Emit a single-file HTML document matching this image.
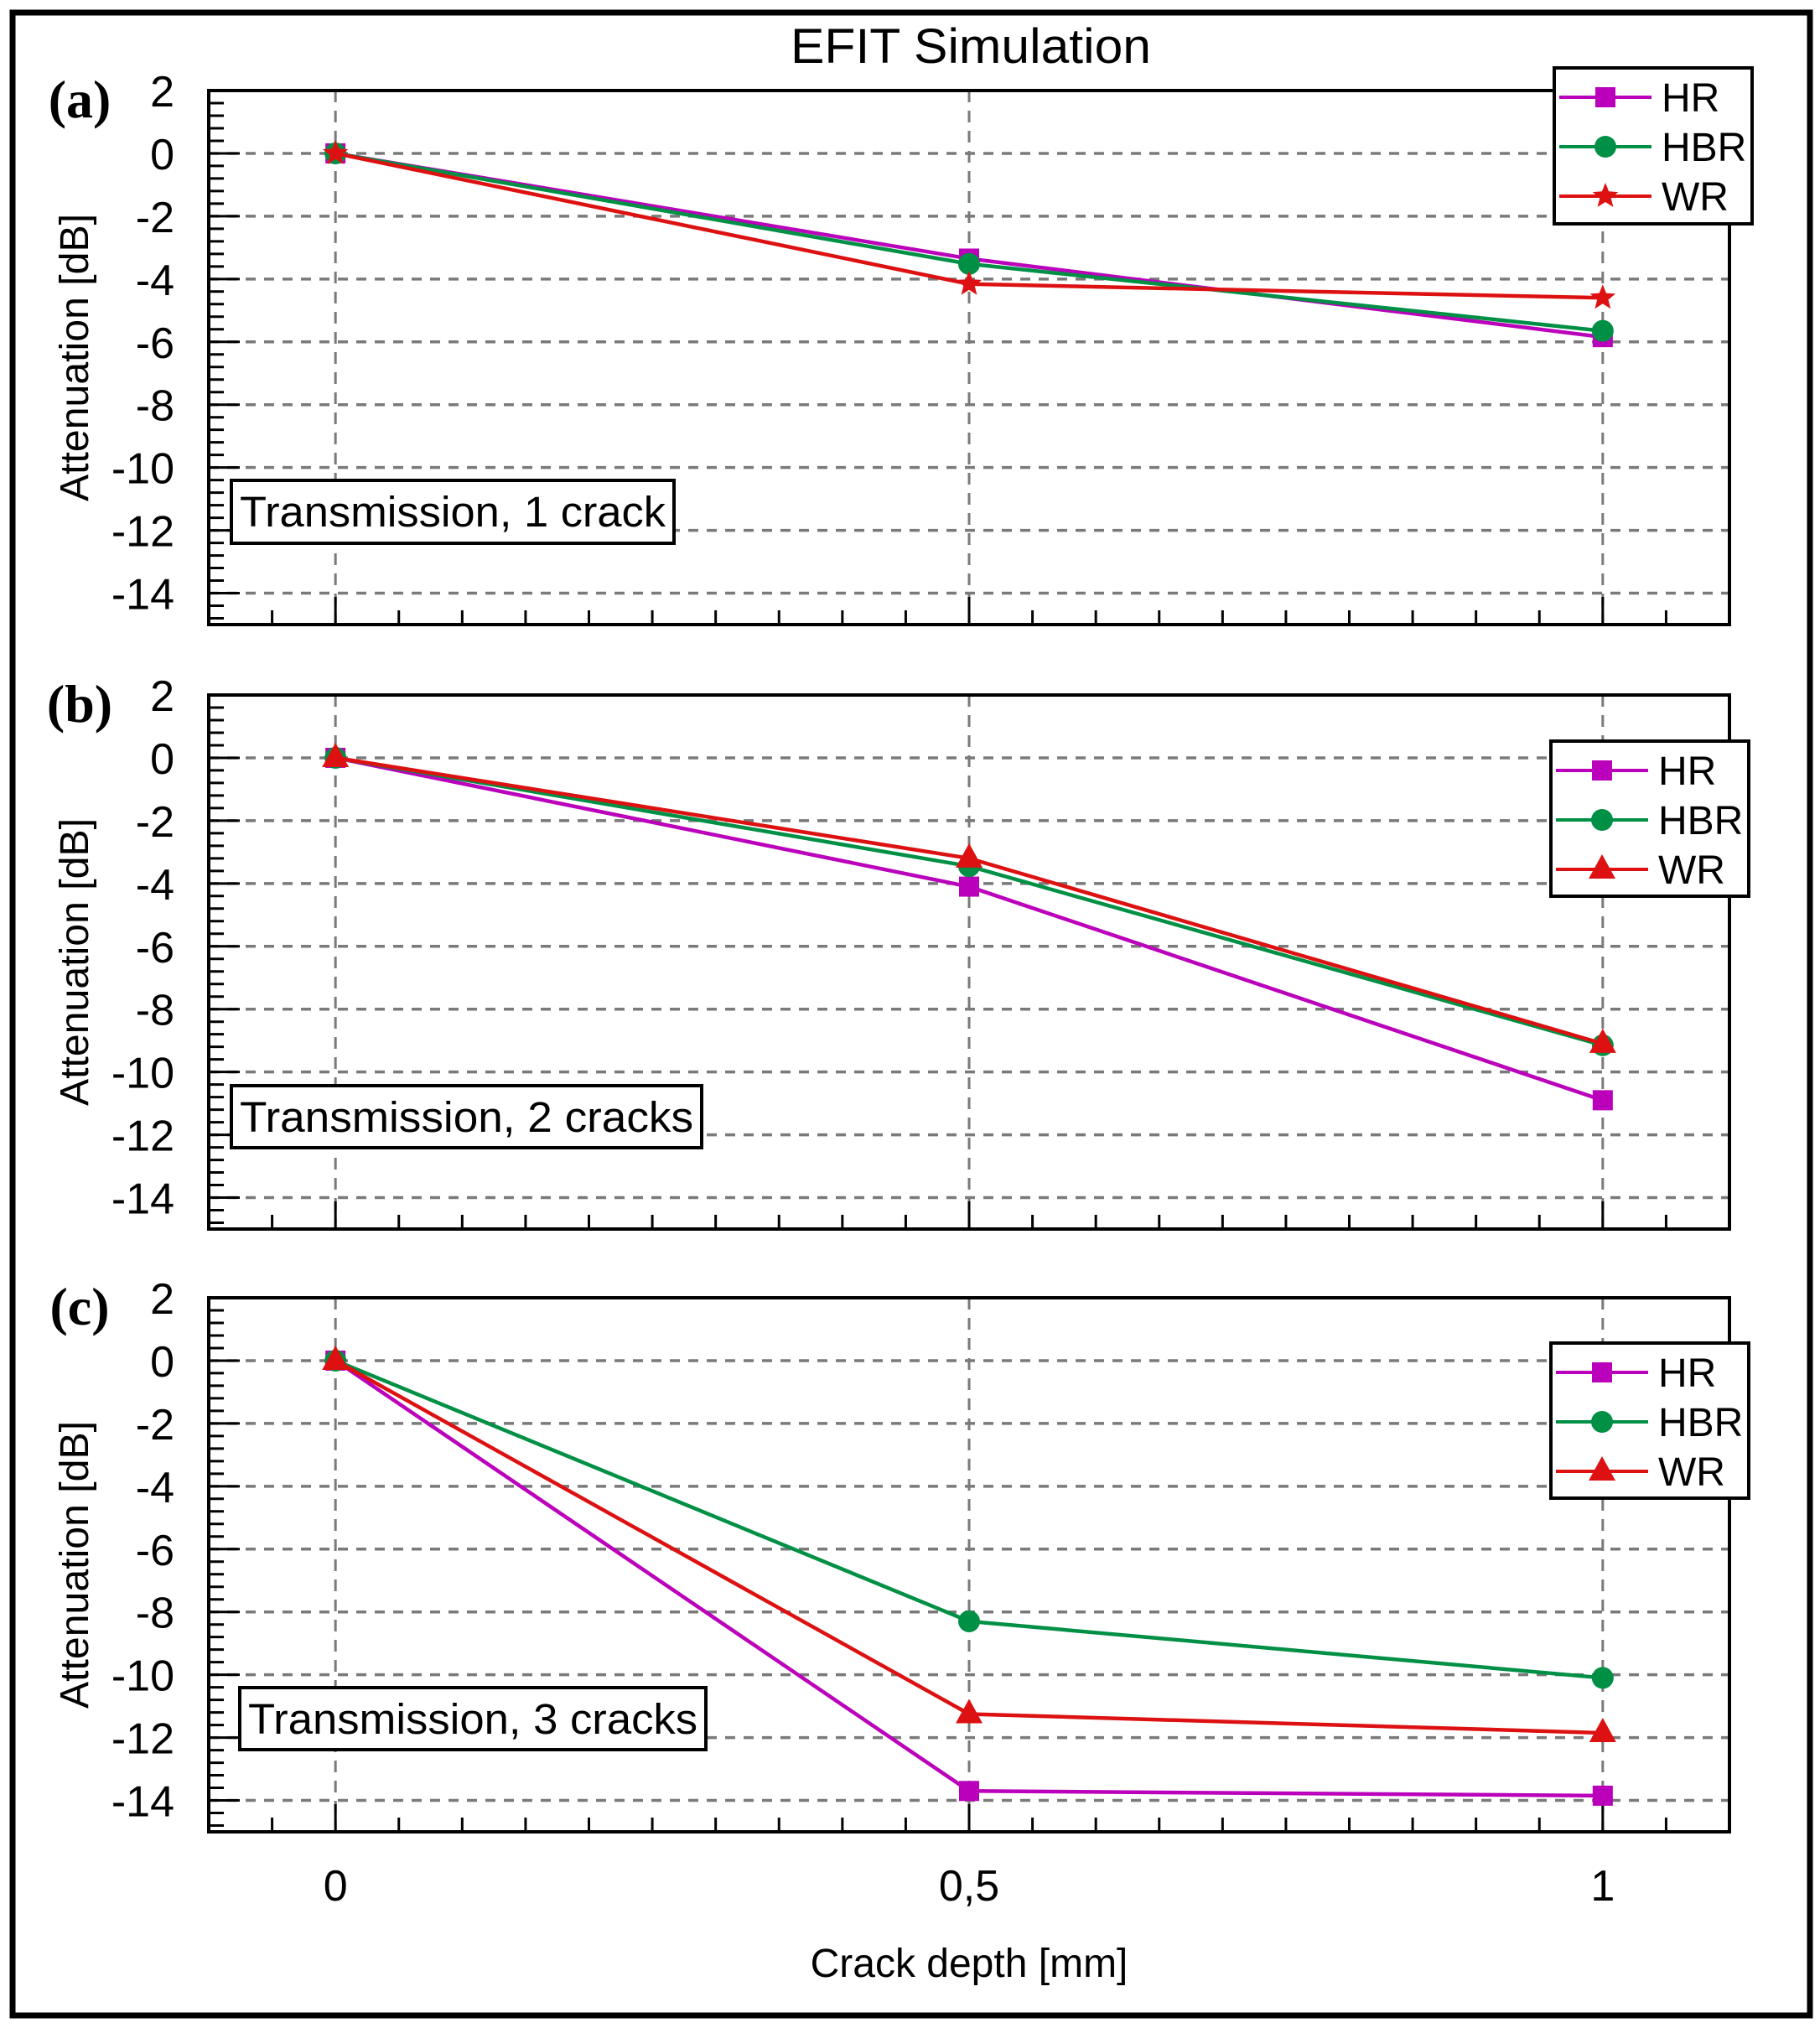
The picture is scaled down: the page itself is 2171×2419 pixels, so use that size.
<!DOCTYPE html>
<html><head><meta charset="utf-8"><style>
html,body{margin:0;padding:0;background:#fff}
svg{display:block}
text{font-family:"Liberation Sans",sans-serif}
text.serif{font-family:"Liberation Serif",serif}
</style></head><body>
<svg id="chart" width="2171" height="2419" viewBox="0 0 2171 2419" xmlns="http://www.w3.org/2000/svg">
<rect x="15" y="15" width="2144" height="2389" fill="#fff" stroke="#000" stroke-width="7"/>
<text x="1158" y="75" font-size="58" text-anchor="middle" textLength="430" lengthAdjust="spacingAndGlyphs">EFIT Simulation</text>
<text x="1156" y="2358" font-size="48" text-anchor="middle">Crack depth [mm]</text>
<g id="plots"></g>
</svg>
<script>
const categories = [0, 0.5, 1];
const seriesNames = ["HR", "HBR", "WR"];
const yTicks = [2, 0, -2, -4, -6, -8, -10, -12, -14];
const yTickLabels = ["2", "0", "-2", "-4", "-6", "-8", "-10", "-12", "-14"];
const xTickLabels = ["0", "0,5", "1"];
const panelLabels = ["(a)", "(b)", "(c)"];
const panelNotes = ["Transmission, 1 crack", "Transmission, 2 cracks", "Transmission, 3 cracks"];
const hrA = [0, -3.35, -5.85];
const hbrA = [0, -3.52, -5.65];
const wrA = [0, -4.16, -4.6];
const hrB = [0, -4.1, -10.9];
const hbrB = [0, -3.45, -9.15];
const wrB = [0, -3.2, -9.1];
const hrC = [0, -13.7, -13.85];
const hbrC = [0, -8.3, -10.1];
const wrC = [0, -11.25, -11.85];

const NS = "http://www.w3.org/2000/svg";
const root = document.getElementById("plots");
const colors = {HR: "#bb00bb", HBR: "#009045", WR: "#dd1111"};
const panels = [
  {top: 108, data: [hrA, hbrA, wrA], wrMarker: "star", leg: [1854, 81, 236, 186], note: [276, 573, 528, 75]},
  {top: 829, data: [hrB, hbrB, wrB], wrMarker: "tri", leg: [1850, 884, 236, 185], note: [276, 1295, 561, 74]},
  {top: 1548, data: [hrC, hbrC, wrC], wrMarker: "tri", leg: [1850, 1602, 236, 185], note: [286, 2013, 556, 74]}
];
const L = 249, R = 2063, H = 637, xMin = -0.1, xMax = 1.1, yMax = 2, yMin = -15;
function mk(tag, attrs, parent) {
  const e = document.createElementNS(NS, tag);
  for (const k in attrs) e.setAttribute(k, attrs[k]);
  parent.appendChild(e);
  return e;
}
function xs(v) { return L + (v - xMin) / (xMax - xMin) * (R - L); }
function marker(g, type, cx, cy, col) {
  let m;
  if (type === "square") m = mk("rect", {x: cx - 12, y: cy - 12, width: 24, height: 24, fill: col}, g);
  else if (type === "circle") m = mk("circle", {cx: cx, cy: cy, r: 13, fill: col}, g);
  else if (type === "tri") m = mk("polygon", {points: `${cx},${cy - 18} ${cx + 16},${cy + 11} ${cx - 16},${cy + 11}`, fill: col}, g);
  else {
    let pts = [];
    for (let i = 0; i < 10; i++) {
      const a = -Math.PI / 2 + i * Math.PI / 5, r = i % 2 ? 7 : 16;
      pts.push((cx + r * Math.cos(a)).toFixed(1) + "," + (cy + r * Math.sin(a)).toFixed(1));
    }
    m = mk("polygon", {points: pts.join(" "), fill: col}, g);
  }
  return m;
}
panels.forEach((p, pi) => {
  const T = p.top, B = T + H;
  const ys = v => T + (yMax - v) / (yMax - yMin) * H;
  const g = mk("g", {}, root);
  
  
  yTicks.forEach(v => {
    if (v === 2) return;
    const ln = mk("line", {x1: L, x2: R, y1: ys(v), y2: ys(v), stroke: "#7a7a7a", "stroke-width": 3.5, "stroke-dasharray": "12 10"}, g);
    
    
  });
  categories.forEach(v => {
    const ln = mk("line", {x1: xs(v), x2: xs(v), y1: T, y2: B, stroke: "#7a7a7a", "stroke-width": 3, "stroke-dasharray": "14 10"}, g);
    
    
  });
  for (let v = 2; v >= -15; v -= 0.4) {
    const vv = Math.round(v * 10) / 10;
    const major = Math.abs(vv % 2) < 0.01;
    const t = mk("line", {x1: L, x2: L + (major ? 37 : 18), y1: ys(vv), y2: ys(vv), stroke: "#000", "stroke-width": 3}, g);
    
    
  }
  for (let i = 0; i <= 22; i++) {
    const v = -0.05 + i * 0.05;
    const major = i % 10 === 1;
    const t = mk("line", {x1: xs(v), x2: xs(v), y1: B, y2: B - (major ? 33 : 17), stroke: "#000", "stroke-width": 3}, g);
    
    
  }
  yTicks.forEach((v, i) => {
    const t = mk("text", {x: 208, y: ys(v) + 19, "font-size": 52, "text-anchor": "end"}, g);
    t.textContent = yTickLabels[i];
    
    
  });
  const fr = mk("rect", {x: L, y: T, width: R - L, height: H, fill: "none", stroke: "#000", "stroke-width": 4}, g);
  
  
  const yt = mk("text", {x: 0, y: 0, "font-size": 48, "text-anchor": "middle", textLength: 343, lengthAdjust: "spacingAndGlyphs", transform: `translate(105,${T + H * 0.5}) rotate(-90)`}, g);
  yt.textContent = "Attenuation [dB]";
  
  
  const pl = mk("text", {x: 95, y: T + 32, "font-size": 64, "font-weight": "bold", "text-anchor": "middle", class: "serif"}, g);
  pl.textContent = panelLabels[pi];
  
  
  const n = p.note;
  const nb = mk("rect", {x: n[0], y: n[1], width: n[2], height: n[3], fill: "#fff", stroke: "#000", "stroke-width": 4}, g);
  
  
  const nt = mk("text", {x: n[0] + 10, y: n[1] + 55, "font-size": 51, textLength: n[2] - 20, lengthAdjust: "spacingAndGlyphs"}, g);
  nt.textContent = panelNotes[pi];
  
  
  const markers = ["square", "circle", p.wrMarker];
  p.data.forEach((vals, si) => {
    const col = colors[seriesNames[si]];
    const sg = mk("g", {}, g);
    
    
    const pts = vals.map((v, i) => xs(categories[i]).toFixed(1) + "," + ys(v).toFixed(1)).join(" ");
    const pl2 = mk("polyline", {points: pts, fill: "none", stroke: col, "stroke-width": 4.5}, sg);
    
    
    vals.forEach((v, i) => {
      const m = marker(sg, markers[si], xs(categories[i]), ys(v), col);
      
      
    });
  });
  const lg = p.leg;
  const lgG = mk("g", {}, g);
  
  
  mk("rect", {x: lg[0], y: lg[1], width: lg[2], height: lg[3], fill: "#fff", stroke: "#000", "stroke-width": 4}, lgG);
  seriesNames.forEach((s, si) => {
    const cy = lg[1] + 35 + si * 59;
    const e = mk("g", {}, lgG);
    
    
    mk("line", {x1: lg[0] + 6, x2: lg[0] + 116, y1: cy, y2: cy, stroke: colors[s], "stroke-width": 4}, e);
    marker(e, markers[si], lg[0] + 61, cy, colors[s]);
    const t = mk("text", {x: lg[0] + 128, y: cy + 17, "font-size": 48}, e);
    t.textContent = s;
  });
  if (pi === 2) {
    categories.forEach((v, i) => {
      const t = mk("text", {x: xs(v), y: 2267, "font-size": 52, "text-anchor": "middle"}, g);
      t.textContent = xTickLabels[i];
      
      
    });
  }
});
</script>
</body></html>
